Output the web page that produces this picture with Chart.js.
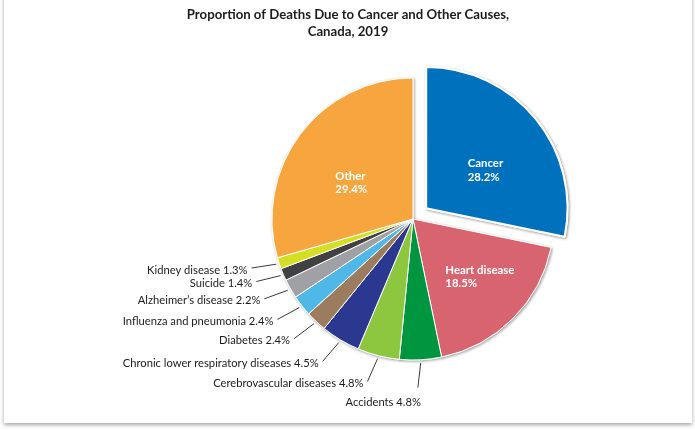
<!DOCTYPE html>
<html><head><meta charset="utf-8">
<script src="https://cdn.jsdelivr.net/npm/chart.js@4"></script>
<style>
html,body{margin:0;padding:0;background:#fff;width:695px;height:431px;overflow:hidden;}
#card{position:absolute;left:4px;top:-10px;width:688px;height:433px;background:#fff;box-shadow:0 2px 4px rgba(0,0,0,0.35);}
#wrap{position:absolute;left:0;top:0;width:695px;height:431px;}
</style></head><body>
<div id="card"></div>
<div id="wrap"><canvas id="c" width="695" height="431"></canvas></div>
<script>
const titleLines = ['Proportion of Deaths Due to Cancer and Other Causes,', 'Canada, 2019'];
const categories = ['Cancer','Heart disease','Accidents','Cerebrovascular diseases','Chronic lower respiratory diseases','Diabetes','Influenza and pneumonia','Alzheimer\u2019s disease','Suicide','Kidney disease','Other'];
const percentages = [28.2,18.5,4.8,4.8,4.5,2.4,2.4,2.2,1.4,1.3,29.4];
const sliceColors = ['#0071bc','#d7646f','#00953f','#8dc63f','#2b3890','#9b7c5e','#50b8e7','#a0a1a4','#414042','#d6de23','#f7a53f'];
const insideLabels = ['Cancer','Heart disease','Other'];
const explodedSlices = ['Cancer'];

const FONT = 'Lato, "Open Sans", sans-serif';
const TEXT = '#1e1b1c';
// inside label placement: [fraction of radius, angle nudge in degrees]
const insidePlacement = { 'Cancer': [0.50, 6.4], 'Heart disease': [0.626, -4.2], 'Other': [0.508, -6.6] };

const shadowPlugin = {
  id: 'shadowUnder',
  beforeDatasetsDraw(chart) {
    const ctx = chart.ctx;
    const meta = chart.getDatasetMeta(0);
    ctx.save();
    ctx.shadowColor = 'rgba(0,0,0,0.35)';
    ctx.shadowBlur = 3;
    ctx.shadowOffsetX = 1;
    ctx.shadowOffsetY = 1;
    meta.data.forEach(a => a.draw(ctx));
    ctx.restore();
  }
};

const labelPlugin = {
  id: 'sliceLabels',
  afterDatasetsDraw(chart) {
    const ctx = chart.ctx;
    const meta = chart.getDatasetMeta(0);
    ctx.save();
    meta.data.forEach((arc, i) => {
      const p = arc.getProps(['x','y','startAngle','endAngle','outerRadius'], true);
      const mid = (p.startAngle + p.endAngle) / 2;
      const off = (arc.options.offset || 0) / 4;
      const cx = p.x + Math.cos(mid) * off;
      const cy = p.y + Math.sin(mid) * off;
      const name = categories[i];
      const pct = percentages[i].toFixed(1) + '%';
      if (insideLabels.includes(name)) {
        ctx.font = 'bold 11.4px ' + FONT;
        ctx.fillStyle = '#ffffff';
        ctx.textBaseline = 'middle';
        ctx.textAlign = 'left';
        const pl = insidePlacement[name] || [0.55, 0];
        const k = pl[0] * p.outerRadius;
        const a = mid + pl[1] * Math.PI / 180;
        const lx = cx + Math.cos(a) * k;
        const ly = cy + Math.sin(a) * k;
        const w = Math.max(ctx.measureText(name).width, ctx.measureText(pct).width);
        ctx.fillText(name, lx - w / 2, ly - 6.5);
        ctx.fillText(pct, lx - w / 2, ly + 7);
      } else {
        const r0 = p.outerRadius + 3;
        const sx = cx + Math.cos(mid) * r0;
        const sy = cy + Math.sin(mid) * r0;
        const da = mid + 9.5 * Math.PI / 180;
        const ex = sx + Math.cos(da) * 25;
        const ey = sy + Math.sin(da) * 25;
        ctx.strokeStyle = '#3a3a3a';
        ctx.lineWidth = 1;
        ctx.beginPath();
        ctx.moveTo(sx, sy);
        ctx.lineTo(ex, ey);
        ctx.stroke();
        ctx.font = '11.2px ' + FONT;
        ctx.fillStyle = TEXT;
        ctx.textAlign = 'right';
        ctx.textBaseline = 'middle';
        const txt = name + ' ' + pct;
        if (Math.abs(Math.cos(da)) < 0.3) {
          ctx.fillText(txt, ex + 3, ey + 15);
        } else {
          ctx.fillText(txt, ex - 4, ey + 2);
        }
      }
    });
    ctx.restore();
  }
};

const titlePlugin = {
  id: 'titleText',
  afterDraw(chart) {
    const ctx = chart.ctx;
    ctx.save();
    ctx.font = 'bold 13.2px ' + FONT;
    ctx.fillStyle = TEXT;
    ctx.textAlign = 'center';
    ctx.textBaseline = 'middle';
    titleLines.forEach((t, j) => ctx.fillText(t, 348, 14.5 + j * 17));
    ctx.restore();
  }
};

new Chart(document.getElementById('c'), {
  type: 'pie',
  data: {
    labels: categories,
    datasets: [{
      data: percentages,
      backgroundColor: sliceColors,
      borderColor: '#ffffff',
      borderWidth: categories.map(c => explodedSlices.includes(c) ? 2 : 1),
      offset: categories.map(c => explodedSlices.includes(c) ? 68 : 0)
    }]
  },
  options: {
    responsive: false,
    animation: false,
    events: [],
    radius: 141,
    layout: { padding: { left: 263, right: 132, top: 69, bottom: 62 } },
    plugins: { legend: { display: false }, title: { display: false }, tooltip: { enabled: false } }
  },
  plugins: [shadowPlugin, labelPlugin, titlePlugin]
});
</script>
</body></html>
